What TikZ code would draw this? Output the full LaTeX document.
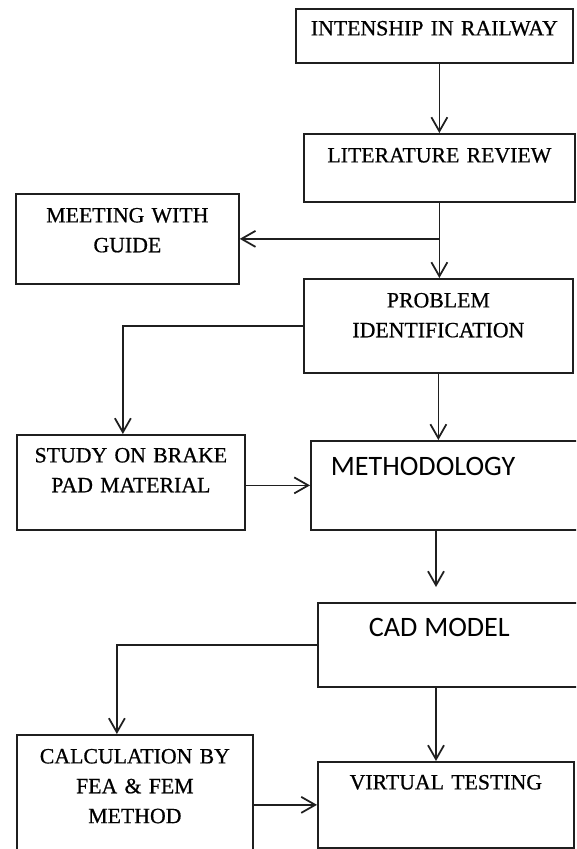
\documentclass[tikz,border=0pt]{standalone}
\usepackage{fontspec}
\setmainfont{Liberation Serif}[FakeBold=0.7]
\newfontfamily\carlito{Carlito}
\usepackage{tikz}
\usetikzlibrary{arrows.meta}

\begin{document}
\begin{tikzpicture}[
  stage/.style={draw=black!88, line width=1pt, anchor=north west,
                inner xsep=0pt, inner ysep=0pt, align=center,
                font=\fontsize{12.4}{17}\selectfont, text height=0.57cm},
  sansstage/.style={stage, align=left, text width=6cm,
                    font=\carlito\fontsize{16}{19}\selectfont,
                    text height=0.70cm},
  arr/.style={-{Straight Barb[length=0.28cm, width=0.32cm]},
              draw=black!88, line width=1pt},
]

\useasboundingbox (0,0) rectangle (11.52,-16.98);
\clip (0,0) rectangle (11.52,-16.98);

% --- Right column ---
\node[stage, text width=5.54cm, text height=0.53cm, text depth=0.55cm]
  (rail) at (5.90, -0.16) {INTENSHIP IN RAILWAY};
\node[stage, text width=5.42cm, text depth=0.79cm]
  (lit) at (6.06, -2.66) {LITERATURE REVIEW};
\node[stage, text width=5.38cm, text depth=1.31cm]
  (prob) at (6.06, -5.56) {PROBLEM\\IDENTIFICATION};
\node[sansstage, inner xsep=0.4cm, text depth=1.08cm]
  (meth) at (6.20, -8.80) {METHODOLOGY};
\node[sansstage, inner xsep=1.02cm, text height=0.68cm, text depth=1.00cm]
  (cad) at (6.34, -12.04) {CAD\hspace{-0.05cm} MODEL};
\node[stage, text width=5.12cm, text height=0.55cm, text depth=1.17cm]
  (virt) at (6.34, -15.22) {VIRTUAL TESTING};

% --- Left column ---
\node[stage, text width=4.46cm, text depth=1.23cm]
  (meet) at (0.30, -3.86) {MEETING WITH\\GUIDE};
\node[stage, text width=4.56cm, text height=0.55cm, text depth=1.35cm]
  (study) at (0.32, -8.68) {STUDY ON BRAKE\\PAD MATERIAL};
\node[stage, text width=4.72cm, text depth=2.23cm]
  (calc) at (0.32, -14.68) {CALCULATION BY\\FEA \& FEM\\METHOD};

% --- Flow arrows ---
\draw[arr] (lit.north |- rail.south) -- (lit.north);
\draw[arr] (lit.south) -- (lit.south |- prob.north);
\draw[arr] (lit.south |- meet.east) -- (meet.east);
\draw[arr] (prob.south) -- (prob.south |- meth.north);
\draw[arr] (prob.west) -| ([xshift=-0.16cm]study.north);
\draw[arr] (study.east |- meth.west) -- (meth.west);

\coordinate (mc) at ([xshift=2.52cm]meth.south west);
\draw[arr, shorten >=0.3cm] (mc) -- (mc |- cad.north);

\coordinate (cv) at ([xshift=2.38cm]cad.south west);
\draw[arr] (cv) -- (cv |- virt.north);
\draw[arr] (cad.west) -| ([xshift=-0.36cm]calc.north);
\draw[arr] (calc.east |- virt.west) -- (virt.west);

\end{tikzpicture}
\end{document}
